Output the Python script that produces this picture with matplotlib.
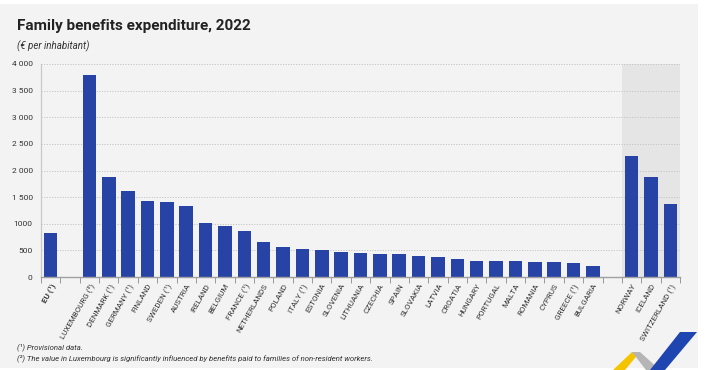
import matplotlib
matplotlib.use("Agg")
import matplotlib.pyplot as plt
from matplotlib import font_manager
from matplotlib.patches import Polygon, Rectangle
import numpy as np

# ---------------- data ----------------
eu_label = ["EU (¹)"]
eu_values = [820]
member_labels = ["LUXEMBOURG (²)", "DENMARK (¹)", "GERMANY (¹)", "FINLAND", "SWEDEN (¹)",
                 "AUSTRIA", "IRELAND", "BELGIUM", "FRANCE (¹)", "NETHERLANDS", "POLAND",
                 "ITALY (¹)", "ESTONIA", "SLOVENIA", "LITHUANIA", "CZECHIA", "SPAIN",
                 "SLOVAKIA", "LATVIA", "CROATIA", "HUNGARY", "PORTUGAL", "MALTA",
                 "ROMANIA", "CYPRUS", "GREECE (¹)", "BULGARIA"]
member_values = [3787, 1872, 1609, 1433, 1402, 1333, 1020, 964, 864, 663, 563,
                 520, 507, 469, 445, 440, 426, 388, 376, 332, 307, 294, 294,
                 282, 275, 263, 213]
efta_labels = ["NORWAY", "ICELAND", "SWITZERLAND (¹)"]
efta_values = [2269, 1875, 1378]
y_ticks = [0, 500, 1000, 1500, 2000, 2500, 3000, 3500, 4000]
y_tick_labels = ["0", "500", "1000", "1 500", "2 000", "2 500", "3 000", "3 500", "4 000"]

title = "Family benefits expenditure, 2022"
subtitle = "(€ per inhabitant)"
notes = ["(¹) Provisional data.",
         "(²) The value in Luxembourg is significantly influenced by benefits paid to families of non-resident workers."]

# ---------------- fonts ----------------
avail = {f.name for f in font_manager.fontManager.ttflist}
narrow = "Liberation Sans Narrow" if "Liberation Sans Narrow" in avail else "Roboto"
plt.rcParams['font.family'] = [narrow, 'DejaVu Sans']

BLUE = "#2743a6"
BG = "#f3f3f3"

fig = plt.figure(figsize=(7.14, 3.70), dpi=100, facecolor="white")
# light grey card background
fig.patches.append(Rectangle((0, 2 / 370), 698 / 714, 364 / 370, transform=fig.transFigure,
                             facecolor=BG, edgecolor="none", zorder=-5))

ax = fig.add_axes([41 / 714, 1 - 277 / 370, (680 - 41) / 714, (277 - 64) / 370])
ax.set_zorder(1)
ax.set_facecolor(BG)

eu_pos = [0]
member_pos = list(range(2, 2 + len(member_values)))
efta_start = member_pos[-1] + 2
efta_pos = list(range(efta_start, efta_start + len(efta_values)))

ax.axvspan(efta_pos[0] - 0.5, efta_pos[-1] + 0.5, color="#e5e5e5", zorder=0, lw=0)

w = 0.70
ax.bar(eu_pos, eu_values, width=w, color=BLUE, zorder=3)
ax.bar(member_pos, member_values, width=w, color=BLUE, zorder=3)
ax.bar(efta_pos, efta_values, width=w, color=BLUE, zorder=3)

ax.set_xlim(-0.5, efta_pos[-1] + 0.5)
ax.set_ylim(0, 4000)
ax.set_yticks(y_ticks, y_tick_labels)
ax.tick_params(axis="y", length=0, labelsize=6, colors="#333333", pad=6)

ax.grid(axis="y", color="#c4c4c4", linestyle=(0, (1.2, 1.5)), linewidth=0.7, zorder=1)
ax.set_axisbelow(True)

all_pos = eu_pos + member_pos + efta_pos
all_labels = eu_label + member_labels + efta_labels
ax.set_xticks(all_pos, all_labels, rotation=60, ha="right", rotation_mode="anchor")
ax.tick_params(axis="x", which="major", length=0, labelsize=5.8, pad=4, colors="#333333")
ax.set_xticks(np.arange(-0.5, efta_pos[-1] + 1, 1.0), minor=True)
ax.tick_params(axis="x", which="minor", length=4, width=0.7, color="#9a9a9a", direction="out")
ax.get_xticklabels()[0].set_fontweight("bold")

for s in ["top", "right"]:
    ax.spines[s].set_visible(False)
ax.spines["left"].set_color("#c8c8c8")
ax.spines["left"].set_linewidth(0.9)
ax.spines["bottom"].set_color("#a0a0a0")
ax.spines["bottom"].set_linewidth(1.0)
ax.spines["bottom"].set_zorder(4)

# titles
fig.text(17 / 714, 1 - 26 / 370, title, fontsize=11, fontweight="bold", color="#222222",
         va="center", ha="left")
fig.text(17 / 714, 1 - 46 / 370, subtitle, fontsize=7, style="italic", color="#333333",
         va="center", ha="left")
fig.text(17 / 714, 1 - 347 / 370, notes[0], fontsize=5.6, style="italic", color="#333333",
         va="center", ha="left")
fig.text(17 / 714, 1 - 358 / 370, notes[1], fontsize=5.6, style="italic", color="#333333",
         va="center", ha="left")

# logo (decorative)
def px(pts):
    return [(x / 714, 1 - y / 370) for x, y in pts]

fig.patches.append(Polygon(px([(613, 370), (632, 352), (640, 352), (625, 370)]),
                           closed=True, transform=fig.transFigure, facecolor="#f5c400",
                           edgecolor="none", zorder=2))
fig.patches.append(Polygon(px([(632, 352), (640, 352), (660, 370), (646, 370)]),
                           closed=True, transform=fig.transFigure, facecolor="#b5b5b5",
                           edgecolor="none", zorder=2))
fig.patches.append(Polygon(px([(650, 370), (680, 332), (697, 332), (665, 370)]),
                           closed=True, transform=fig.transFigure, facecolor="#1f45b0",
                           edgecolor="none", zorder=2))

fig.savefig("out.png", dpi=100, facecolor=fig.get_facecolor())
